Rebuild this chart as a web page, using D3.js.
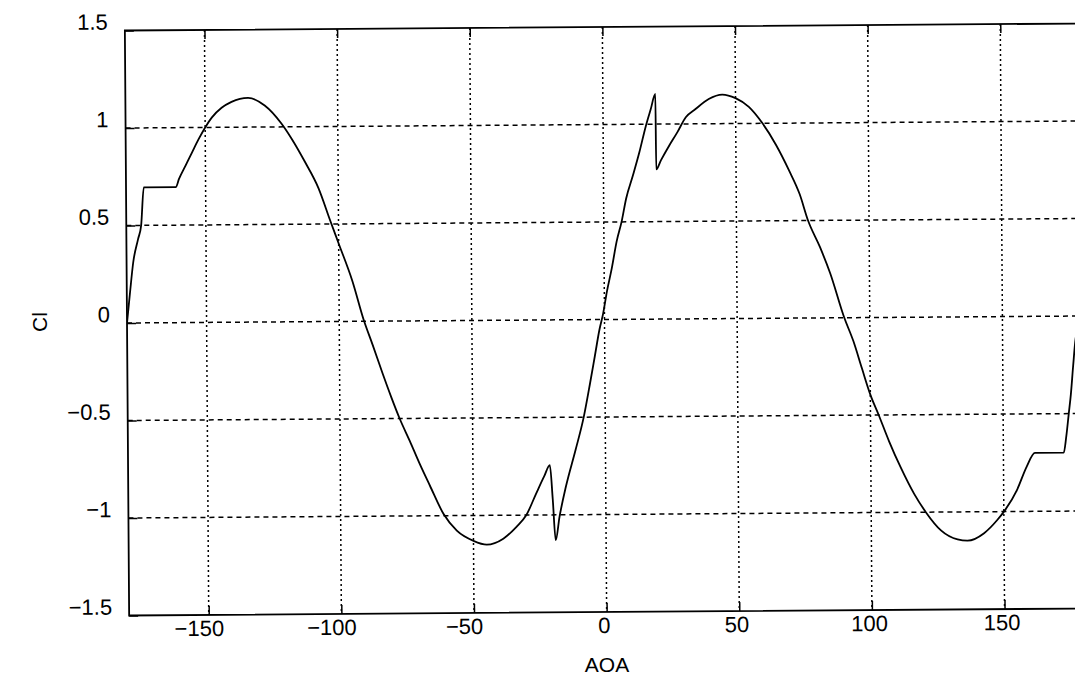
<!DOCTYPE html>
<html>
<head>
<meta charset="utf-8">
<script src="https://cdn.jsdelivr.net/npm/d3@7"></script>
<style>
  html, body { margin: 0; padding: 0; background: #fff; }
  svg { display: block; overflow: hidden; }
  text { font-family: "Liberation Sans", Arial, sans-serif; fill: #000; }
</style>
</head>
<body>
<svg id="chart" width="1075" height="677"></svg>
<script>
// ---- data ----
const aoa = [-180, -178.75, -177.5, -175.6, -174.4, -173.3, -161.25, -160, -157.5, -155, -152.5, -150,
  -147.5, -143.75, -140, -133.75, -127.5, -121.25, -117.5, -112.5, -107.5, -103.1, -100, -95, -90.6,
  -87.5, -83.75, -80.6, -77.5, -73.75, -70, -66.25, -61.25, -56.25, -50, -45, -38.75, -33.75, -30,
  -26.25, -23.1, -21, -20, -19, -17.5, -15, -11.25, -8.1, -5.6, -3.75, -1.9, -0.5, 1.0, 2.9, 4.8,
  6.7, 8.5, 11.1, 13.6, 16.1, 18.0, 19.8, 19.9, 21.7, 24.9, 28.0, 31.2, 34.9, 39.9, 45.0, 50.0, 55.0,
  60.1, 65.1, 70.1, 73.9, 77.0, 81.4, 85.2, 90.4, 93.75, 96.9, 100, 103.1, 106.9, 111.25, 116.25,
  120.6, 126.25, 132.5, 136.25, 142.5, 147.5, 150.6, 155, 158.75, 161.9, 172.75, 173.75, 174.75,
  175.6, 176.5, 177.5, 180];
const cl = [0.0, 0.16, 0.31, 0.43, 0.5, 0.695, 0.695, 0.737, 0.805, 0.873, 0.94, 1.0,
  1.05, 1.10, 1.13, 1.15, 1.11, 1.017, 0.94, 0.82, 0.686, 0.517, 0.40, 0.21, 0.0,
  -0.12, -0.27, -0.39, -0.50, -0.615, -0.735, -0.846, -0.99, -1.077, -1.13, -1.15, -1.12, -1.06, -1.0,
  -0.89, -0.80, -0.745, -0.92, -1.13, -1.01, -0.855, -0.667, -0.50, -0.325, -0.188, -0.05, 0.03, 0.144, 0.263, 0.40,
  0.50, 0.62, 0.737, 0.856, 0.99, 1.076, 1.155, 0.768, 0.814, 0.89, 0.958, 1.034, 1.076, 1.127, 1.149, 1.13, 1.085,
  1.0, 0.89, 0.754, 0.636, 0.50, 0.364, 0.229, 0.0, -0.12, -0.26, -0.395, -0.50, -0.634, -0.77, -0.906,
  -1.0, -1.094, -1.141, -1.148, -1.11, -1.043, -0.99, -0.89, -0.77, -0.70, -0.70, -0.617, -0.50,
  -0.40, -0.26, -0.12, 0.0];
const xTicks = [-150, -100, -50, 0, 50, 100, 150];
const yTicks = [-1.5, -1, -0.5, 0, 0.5, 1, 1.5];
const yGrid = [-1, -0.5, 0, 0.5, 1];
const xLabel = "AOA";
const yLabel = "Cl";

// ---- layout ----
const svg = d3.select("#chart");
svg.append("rect").attr("width", 1075).attr("height", 677).attr("fill", "#fff");

const L = 127, R = 1082, T = 27, B = 612;
const x = d3.scaleLinear().domain([-180, 180]).range([L, R]);
const y = d3.scaleLinear().domain([-1.5, 1.5]).range([B, T]);

// scanned reference is very slightly rotated
const g = svg.append("g").attr("transform", "rotate(-0.42, 605, 320)");

g.append("clipPath").attr("id", "plotclip")
  .append("rect").attr("x", L).attr("y", T).attr("width", R - L).attr("height", B - T);

// grid
g.append("g").selectAll("line").data(yGrid).join("line")
  .attr("x1", L).attr("x2", R).attr("y1", d => y(d)).attr("y2", d => y(d))
  .attr("stroke", "#000").attr("stroke-width", 1.5).attr("stroke-dasharray", "5,4");
g.append("g").selectAll("line").data(xTicks).join("line")
  .attr("y1", T).attr("y2", B).attr("x1", d => x(d)).attr("x2", d => x(d))
  .attr("stroke", "#000").attr("stroke-width", 1.5).attr("stroke-dasharray", "2,3");

// curve
const pts = aoa.map((a, i) => [a, cl[i]]);
g.append("path").datum(pts)
  .attr("clip-path", "url(#plotclip)")
  .attr("fill", "none").attr("stroke", "#000").attr("stroke-width", 1.8)
  .attr("stroke-linejoin", "round")
  .attr("d", d3.line().curve(d3.curveMonotoneX).x(d => x(d[0])).y(d => y(d[1])));

// frame
g.append("rect").attr("x", L).attr("y", T).attr("width", R - L).attr("height", B - T)
  .attr("fill", "none").attr("stroke", "#000").attr("stroke-width", 1.8);

const fmt = d => String(d).replace("-", "\u2212");

// axes
const xAxis = g.append("g").attr("transform", `translate(0,${B})`)
  .call(d3.axisBottom(x).tickValues(xTicks).tickSizeInner(-9).tickSizeOuter(0).tickFormat(fmt));
xAxis.select(".domain").remove();
xAxis.selectAll("line").attr("stroke", "#000").attr("stroke-width", 1.5);
xAxis.selectAll("text").attr("y", 21).attr("dy", null)
  .attr("dx", d => d < 0 ? -10 : -3)
  .style("font-size", "22px").attr("fill", "#000")
  .style("font-family", "'Liberation Sans', Arial, sans-serif");

const xTop = g.append("g").attr("transform", `translate(0,${T})`)
  .call(d3.axisTop(x).tickValues(xTicks).tickSizeInner(-9).tickSizeOuter(0).tickFormat(""));
xTop.select(".domain").remove();
xTop.selectAll("line").attr("stroke", "#000").attr("stroke-width", 1.5);

const yAxis = g.append("g").attr("transform", `translate(${L},0)`)
  .call(d3.axisLeft(y).tickValues(yTicks).tickSizeInner(-9).tickSizeOuter(0).tickPadding(17).tickFormat(fmt));
yAxis.select(".domain").remove();
yAxis.selectAll("line").attr("stroke", "#000").attr("stroke-width", 1.5);
yAxis.selectAll("text").attr("dy", null).attr("y", -1.5)
  .style("font-size", "22px").attr("fill", "#000")
  .style("font-family", "'Liberation Sans', Arial, sans-serif");

// titles
svg.append("text").attr("x", 607).attr("y", 672).attr("text-anchor", "middle")
  .style("font-size", "21px").text(xLabel);
svg.append("text").attr("transform", "translate(47,322) rotate(-90)").attr("text-anchor", "middle")
  .style("font-size", "21px").text(yLabel);
</script>
</body>
</html>
